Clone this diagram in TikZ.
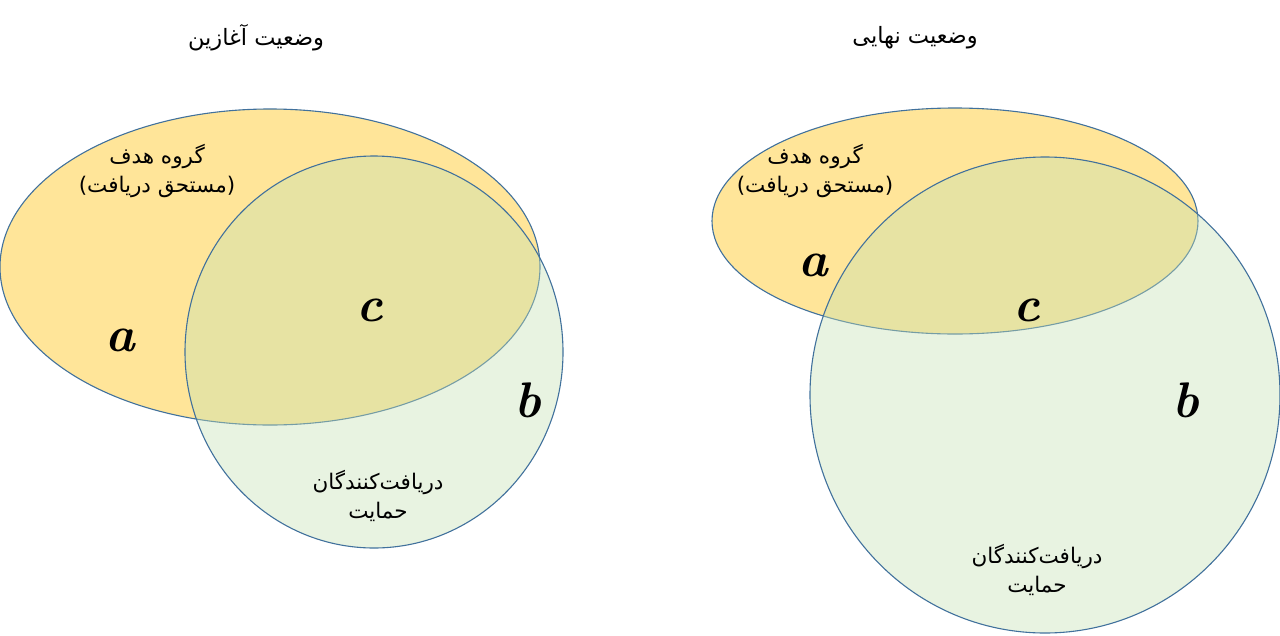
\documentclass[tikz,border=0pt]{standalone}
\usepackage{fontspec}
\TeXXeTstate=1
\newfontfamily\fa[Script=Arabic]{DejaVu Sans}
\definecolor{zard}{HTML}{FFE599}
\definecolor{sabz}{HTML}{C5E0B4}
\definecolor{labe}{HTML}{41719C}
\tikzset{
  hadaf/.style={fill=zard, draw=labe, line width=1.1pt},
  daryaft/.style={fill=sabz, fill opacity=0.4, draw=labe, draw opacity=1, line width=1.1pt},
  matn/.style={font=\fa\fontsize{21.5}{29}\selectfont, align=center, inner sep=0pt},
  onvan/.style={font=\fa\fontsize{22.5}{26}\selectfont, inner sep=0pt},
  harf/.style={font=\fontsize{50}{52}\selectfont\bfseries\itshape, inner sep=0pt}
}
\begin{document}
\begin{tikzpicture}[x=1pt, y=-1pt]
    \useasboundingbox (0,0) rectangle (1280,635);
    % وضعیت آغازین (چپ)
    \draw[hadaf] (270,267) ellipse [x radius=270, y radius=158];
    \draw[daryaft] (374,352) ellipse [x radius=189, y radius=196];
    \node[onvan] (t1) at (256,38) {\beginR وضعیت آغازین\endR};
    \node[matn] (h1) at (157,171) {\beginR گروه هدف\endR\\\beginR (مستحق دریافت)\endR};
    \node[matn] (d1) at (378,496) {\beginR دریافت^^^^200cکنندگان\endR\\\beginR حمایت\endR};
    \node[harf] (a1) at (120,340) {a};
    \node[harf] (c1) at (370,310) {c};
    \node[harf] (b1) at (528,400) {b};
    % وضعیت نهایی (راست)
    \draw[hadaf] (955,221) ellipse [x radius=243, y radius=113];
    \draw[daryaft] (1045,395) ellipse [x radius=235, y radius=238];
    \node[onvan] (t2) at (915,38) {\beginR وضعیت نهایی\endR};
    \node[matn] (h2) at (815,171) {\beginR گروه هدف\endR\\\beginR (مستحق دریافت)\endR};
    \node[matn] (d2) at (1037,570) {\beginR دریافت^^^^200cکنندگان\endR\\\beginR حمایت\endR};
    \node[harf] (a2) at (813,265) {a};
    \node[harf] (c2) at (1027,310) {c};
    \node[harf] (b2) at (1186,400) {b};
\end{tikzpicture}
\end{document}
